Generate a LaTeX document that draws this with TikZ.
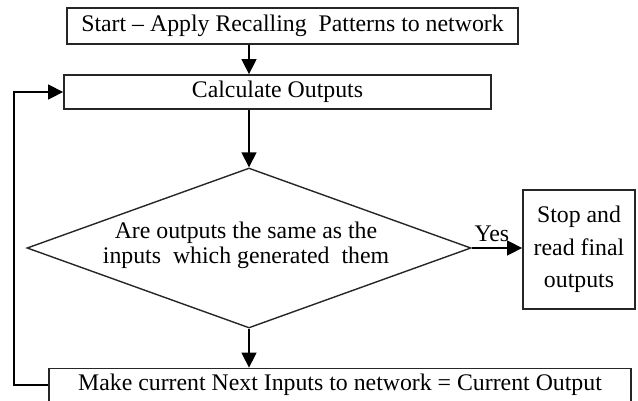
\documentclass[tikz,border=0pt]{standalone}
\usepackage{fontspec}
\setmainfont{Liberation Serif}
\usetikzlibrary{shapes.geometric,arrows.meta}
\begin{document}
\begin{tikzpicture}[x=1pt,y=-1pt,
  box/.style={draw=black!85,line width=1.8pt,rectangle,inner sep=0pt,
    font=\fontsize{23.8}{25}\selectfont},
  arr/.style={line width=1.5pt,-{Triangle[length=15pt,width=15pt]}},
  txt/.style={inner sep=0pt,align=center}]
\useasboundingbox (0,0) rectangle (638,400);
\clip (0,0) rectangle (638,400);
\node[box,minimum width=451pt,minimum height=36pt] (start) at (292.5,26) {Start -- Apply Recalling\ \ Patterns to network};
\node[box,minimum width=427pt,minimum height=34pt] (calc) at (277.5,92) {Calculate Outputs};
\node[diamond,draw=black!85,line width=1.4pt,inner sep=0pt,minimum width=444pt,minimum height=160pt] (dec) at (249,248) {};
\node[txt,font=\fontsize{23.8}{25}\selectfont] (dectext) at (246,245) {Are outputs the same as the\\inputs\ \ which generated\ \ them};
\node[box,minimum width=112pt,minimum height=119pt,align=center,font=\fontsize{23.8}{32.5}\selectfont] (stop) at (579,249.5) {Stop and\\read final\\outputs};
\node[box,minimum width=582pt,minimum height=33pt] (make) at (340,385) {Make current Next Inputs to network = Current Output};
\coordinate (loopA) at (14,0);
\draw[arr] (start.south -| dec.north) -- (calc.north -| dec.north);
\draw[arr] (calc.south -| dec.north) -- (dec.north);
\draw[arr] (dec.south) -- (make.north -| dec.south);
\draw[arr] (dec.east) -- node[pos=0.4,above=6pt,inner sep=0pt,font=\fontsize{23.8}{25}\selectfont] (yes) {Yes} (stop.west |- dec.east);
\draw[arr] (make.west) -- (make.west -| loopA) -- (calc.west -| loopA) -- (calc.west);
\end{tikzpicture}
\end{document}
